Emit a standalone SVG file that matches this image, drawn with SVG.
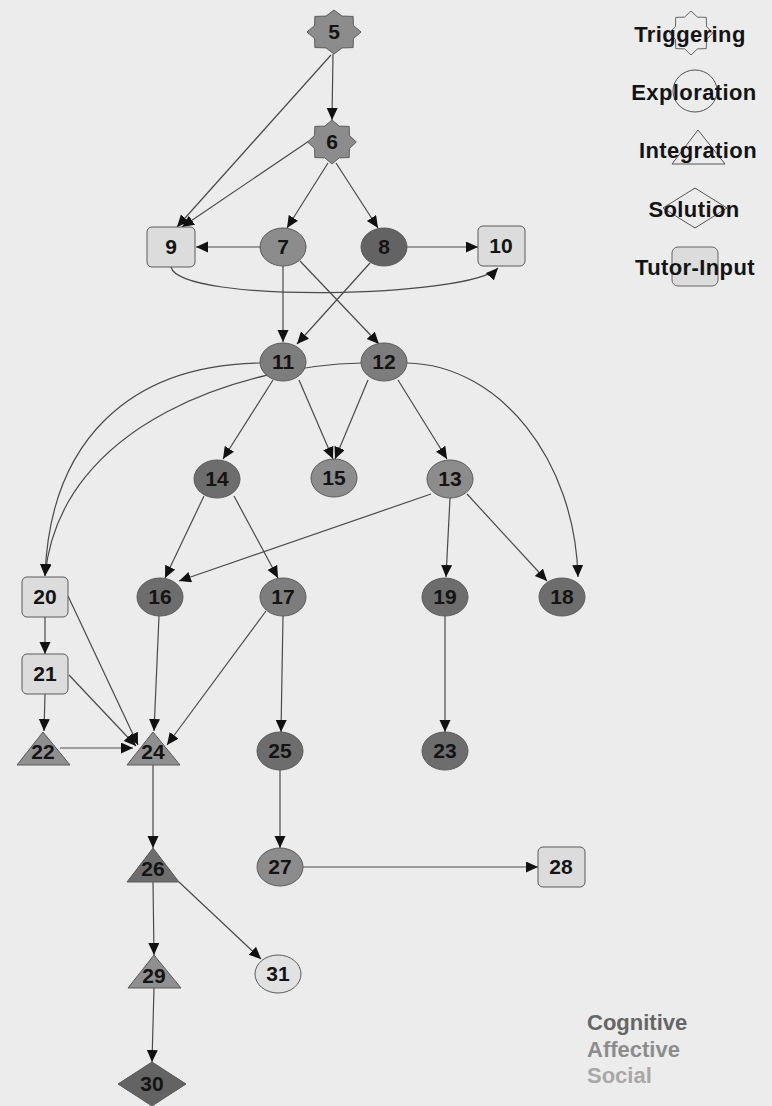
<svg xmlns="http://www.w3.org/2000/svg" width="772" height="1106" viewBox="0 0 772 1106">
<defs>
<marker id="ah" markerUnits="userSpaceOnUse" markerWidth="14" markerHeight="12" refX="12" refY="5.5" orient="auto">
<path d="M0,0 L12,5.5 L0,11 z" fill="#111"/>
</marker>
<polygon id="star" points="27,0 19.4,6.6 19.1,15.6 8,15.9 0,22 -8,15.9 -19.1,15.6 -19.4,6.6 -27,0 -19.4,-6.6 -19.1,-15.6 -8,-15.9 0,-22 8,-15.9 19.1,-15.6 19.4,-6.6"/>
</defs>
<style>
.e{stroke:#4a4a4a;stroke-width:1.2;fill:none;marker-end:url(#ah)}
.n{stroke:#5a5a5a;stroke-width:1}
.t{font-family:"Liberation Sans",Arial,sans-serif;font-weight:bold;font-size:21px;fill:#141414;text-anchor:middle}
.lg{font-family:"Liberation Sans",Arial,sans-serif;font-weight:bold;font-size:22px;letter-spacing:0.4px;fill:#141414;text-anchor:middle}
.ls{fill:none;stroke:#555;stroke-width:1}
.rect{fill:#dcdcdc}
.med{fill:#8c8c8c}
.mid{fill:#7d7d7d}
.dk{fill:#6d6d6d}
.dk2{fill:#636363}
.tri{fill:#8f8f8f}
.lt{fill:#e2e2e2}
.k{font-family:"Liberation Sans",Arial,sans-serif;font-weight:bold;font-size:22px}
</style>
<rect x="0" y="0" width="772" height="1106" fill="#ececec"/>

<g id="connectors">
<path class="e" d="M333,54 L332,120"/>
<path class="e" d="M331,55 L177,227"/>
<path class="e" d="M309,141 L182,227"/>
<path class="e" d="M328,163 L287,228"/>
<path class="e" d="M336,163 L378,228"/>
<path class="e" d="M260,247 L196,247"/>
<path class="e" d="M407,247 L478,247"/>
<path class="e" d="M171,267 C180,304 470,298 498,268"/>
<path class="e" d="M283,266 L283,342"/>
<path class="e" d="M300,261 L379,344"/>
<path class="e" d="M370,263 L297,344"/>
<path class="e" d="M260,363 C130,365 50,440 45,576"/>
<path class="e" d="M362,363 C250,365 60,420 45,576"/>
<path class="e" d="M407,363 C500,365 575,460 578,577"/>
<path class="e" d="M273,380 L223,459"/>
<path class="e" d="M299,380 L333,459"/>
<path class="e" d="M368,380 L335,459"/>
<path class="e" d="M398,380 L447,459"/>
<path class="e" d="M204,496 L165,578"/>
<path class="e" d="M234,496 L278,578"/>
<path class="e" d="M431,494 L179,581"/>
<path class="e" d="M450,498 L446,577"/>
<path class="e" d="M467,494 L547,581"/>
<path class="e" d="M159,616 L154,731"/>
<path class="e" d="M266,611 L167,745"/>
<path class="e" d="M283,616 L281,732"/>
<path class="e" d="M45,617 L45,654"/>
<path class="e" d="M68,596 L138,745"/>
<path class="e" d="M69,675 L136,746"/>
<path class="e" d="M45,694 L44,731"/>
<path class="e" d="M60,748 L133,748"/>
<path class="e" d="M445,616 L445,732"/>
<path class="e" d="M153,765 L153,848"/>
<path class="e" d="M280,770 L280,848"/>
<path class="e" d="M303,867 L538,867"/>
<path class="e" d="M153,882 L154,955"/>
<path class="e" d="M179,882 L261,959"/>
<path class="e" d="M154,988 L152,1062"/>
</g>

<g id="n5"><use href="#star" transform="translate(334,32)" class="n med"/><text class="t" x="334" y="39">5</text></g>
<g id="n6"><use href="#star" transform="translate(332,142) scale(0.9,1)" class="n med"/><text class="t" x="332" y="149">6</text></g>
<g id="n9"><rect class="n rect" x="147" y="227" width="48" height="40" rx="5"/><text class="t" x="171" y="254">9</text></g>
<g id="n7"><ellipse class="n med" cx="283" cy="247" rx="23" ry="19"/><text class="t" x="283" y="254">7</text></g>
<g id="n8"><ellipse class="n dk2" cx="384" cy="247" rx="23" ry="19"/><text class="t" x="384" y="254">8</text></g>
<g id="n10"><rect class="n rect" x="478" y="226" width="47" height="40" rx="5"/><text class="t" x="501" y="253">10</text></g>
<g id="n11"><ellipse class="n mid" cx="283" cy="362" rx="23" ry="19"/><text class="t" x="283" y="369">11</text></g>
<g id="n12"><ellipse class="n mid" cx="384" cy="362" rx="23" ry="19"/><text class="t" x="384" y="369">12</text></g>
<g id="n14"><ellipse class="n dk" cx="217" cy="479" rx="23" ry="19"/><text class="t" x="217" y="486">14</text></g>
<g id="n15"><ellipse class="n med" cx="334" cy="478" rx="23" ry="19"/><text class="t" x="334" y="485">15</text></g>
<g id="n13"><ellipse class="n med" cx="450" cy="479" rx="23" ry="19"/><text class="t" x="450" y="486">13</text></g>
<g id="n20"><rect class="n rect" x="22" y="577" width="46" height="40" rx="5"/><text class="t" x="45" y="604">20</text></g>
<g id="n16"><ellipse class="n dk" cx="160" cy="597" rx="23" ry="19"/><text class="t" x="160" y="604">16</text></g>
<g id="n17"><ellipse class="n mid" cx="283" cy="597" rx="23" ry="19"/><text class="t" x="283" y="604">17</text></g>
<g id="n19"><ellipse class="n dk" cx="445" cy="597" rx="23" ry="19"/><text class="t" x="445" y="604">19</text></g>
<g id="n18"><ellipse class="n dk" cx="562" cy="597" rx="23" ry="19"/><text class="t" x="562" y="604">18</text></g>
<g id="n21"><rect class="n rect" x="22" y="654" width="46" height="40" rx="5"/><text class="t" x="45" y="681">21</text></g>
<g id="n22"><polygon class="n tri" points="43,732 70,765 17,765"/><text class="t" x="43" y="759">22</text></g>
<g id="n24"><polygon class="n tri" points="153,732 180,765 127,765"/><text class="t" x="153" y="759">24</text></g>
<g id="n25"><ellipse class="n dk" cx="280" cy="751" rx="23" ry="19"/><text class="t" x="280" y="758">25</text></g>
<g id="n23"><ellipse class="n dk" cx="445" cy="751" rx="23" ry="19"/><text class="t" x="445" y="758">23</text></g>
<g id="n26"><polygon class="n dk" points="153,848 179,882 127,882"/><text class="t" x="153" y="876">26</text></g>
<g id="n27"><ellipse class="n med" cx="280" cy="867" rx="23" ry="19"/><text class="t" x="280" y="874">27</text></g>
<g id="n28"><rect class="n rect" x="538" y="847" width="47" height="40" rx="5"/><text class="t" x="561" y="874">28</text></g>
<g id="n29"><polygon class="n tri" points="154,955 181,988 128,988"/><text class="t" x="154" y="983">29</text></g>
<g id="n31"><ellipse class="n lt" cx="278" cy="974" rx="23" ry="19"/><text class="t" x="278" y="981">31</text></g>
<g id="n30"><polygon class="n dk2" points="152,1062 186,1084 152,1106 118,1084"/><text class="t" x="152" y="1091">30</text></g>

<g id="legend">
<use href="#star" transform="translate(691,33) scale(0.8,1)" class="ls"/>
<text class="lg" x="690" y="42">Triggering</text>
<ellipse class="ls" cx="695" cy="91" rx="22" ry="21"/>
<text class="lg" x="694" y="100">Exploration</text>
<polygon class="ls" points="698,130 725,164 672,164"/>
<text class="lg" x="698" y="158">Integration</text>
<polygon class="ls" points="695,188 727,208 695,228 663,208"/>
<text class="lg" x="694" y="217">Solution</text>
<rect x="672" y="247" width="46" height="39" rx="6" fill="#dcdcdc" stroke="#666" stroke-width="1"/>
<text class="lg" x="695" y="275">Tutor-Input</text>
</g>

<g id="key">
<text class="k" x="587" y="1030" fill="#666">Cognitive</text>
<text class="k" x="587" y="1057" fill="#8c8c8c">Affective</text>
<text class="k" x="587" y="1083" fill="#a8a8a8">Social</text>
</g>
</svg>
